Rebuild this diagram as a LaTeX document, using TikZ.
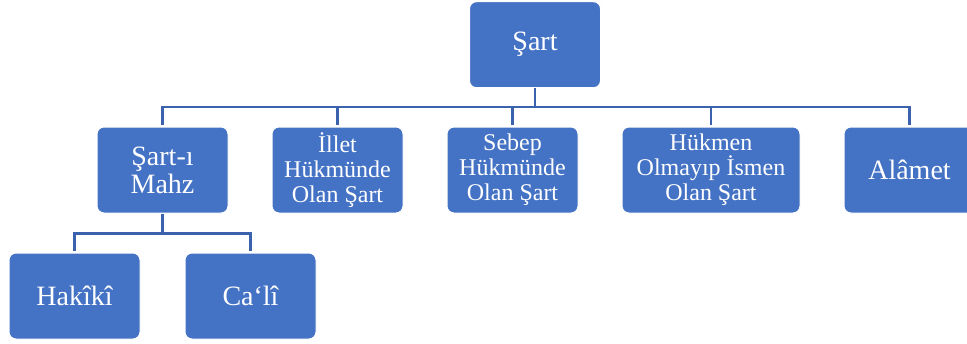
\documentclass[tikz,border=0pt]{standalone}
\usepackage{fontspec}
\setmainfont{Liberation Serif}
\usetikzlibrary{positioning}

\definecolor{boxblue}{HTML}{4472C4}
\definecolor{linkblue}{HTML}{3A62AD}

\begin{document}
\begin{tikzpicture}[x=1pt,y=1pt,node distance=43pt,
                    box/.style={rectangle,rounded corners=7pt,fill=boxblue,draw=white,
                                line width=1pt,text=white,align=center,inner sep=0pt,
                                minimum width=131pt,minimum height=86pt},
                    big/.style={font=\fontsize{28}{28}\selectfont},
                    small/.style={font=\fontsize{24}{25}\selectfont},
                    link/.style={draw=linkblue,line width=2.5pt,shorten >=2pt}]
    \useasboundingbox (0,0) rectangle (967,-343);

    \node[box,big] (sart) at (535,-44.7) {Şart};

    \node[box,big] (mahz) at (162.5,-170) {Şart-ı\\Mahz};
    \node[box,small] (illet) [right=of mahz] {İllet\\Hükmünde\\Olan Şart};
    \node[box,small] (sebep) [right=of illet] {Sebep\\Hükmünde\\Olan Şart};
    \node[box,small,minimum width=178pt] (hukmen) [right=of sebep] {Hükmen\\Olmayıp İsmen\\Olan Şart};
    \node[box,big] (alamet) [right=of hukmen] {Alâmet};

    \node[box,big] (hakiki) at (74.5,-296) {Hakîkî};
    \node[box,big] (cali) [right=44pt of hakiki] {Ca‘lî};

    \foreach \c in {mahz,illet,sebep,hukmen,alamet}
        \draw[link] (sart.south) -- ++(0,-19) -| (\c.north);
    \foreach \c in {hakiki,cali}
        \draw[link] (mahz.south) -- ++(0,-20) -| (\c.north);
\end{tikzpicture}
\end{document}
